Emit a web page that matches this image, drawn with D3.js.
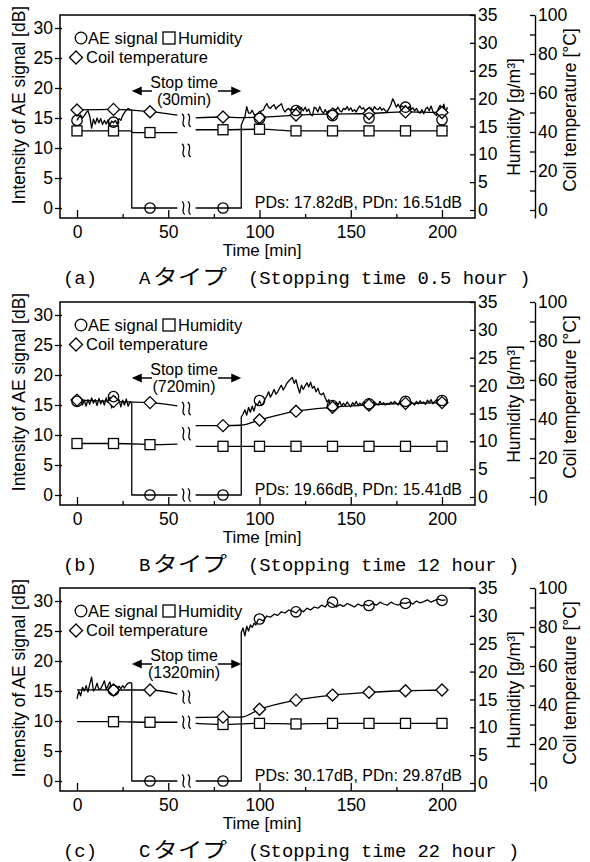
<!DOCTYPE html>
<html><head><meta charset="utf-8">
<script src="https://cdn.jsdelivr.net/npm/d3@7"></script>
<style>body{margin:0;background:#fff}svg{display:block}</style>
</head><body>
<svg id="chart" width="590" height="862"></svg>
<script>
// ---------------- DATA ----------------
const timeTicks = [0, 50, 100, 150, 200];
const timeMinorTicks = [25, 75, 125, 175];
const aeTicks = [0, 5, 10, 15, 20, 25, 30];
const humTicks = [0, 5, 10, 15, 20, 25, 30, 35];
const coilTicks = [0, 10, 20, 30, 40, 50, 60, 70, 80, 90, 100];
const coilLabels = [0, 20, 40, 60, 80, 100];
const markerTimesAB = [0, 20, 40, 80, 100, 120, 140, 160, 180, 200];
const markerTimesC = [20, 40, 80, 100, 120, 140, 160, 180, 200];
const breakFrom = 55, breakTo = 65;
const stopStart = 30, stopEnd = 90;

// Panel (a)
const aeLineA = [[0,14.6],[1,15.1],[2,15.5],[3,15.0],[4,15.4],[5,15.9],[6,16.2],[7,15.3],[8,13.3],[9,14.8],[10,14.0],[11,15.0],[12,14.2],[13,14.9],[14,13.9],[15,14.6],[16,14.0],[17,14.7],[18,13.8],[19,14.5],[20,14.2],[21,14.6],[22,14.0],[23,14.9],[24,14.6],[25,15.4],[26,15.9],[27,16.3],[28,16.6],[29,16.4],[30,16.3],[30,0],[55,0],
 [65,0],[90,0],[90,13.8],[91,14.6],[92,15.2],[93,16.9],[94,15.8],[95,15.8],[96,16.3],[97,15.6],[98,15.4],[99,15.0],[100,15.6],[101,16.2],[102,16.3],[103,16.9],[104,17.4],[105,16.8],[106,16.6],[107,17.0],[108,17.2],[109,16.5],[110,16.9],[111,17.1],[112,17.4],[113,16.5],[114,16.0],[115,16.4],[116,16.6],[117,16.2],[118,16.5],[119,16.3],[120,16.6],[121,16.9],[122,16.4],[123,16.7],[124,16.2],[125,16.8],[126,16.1],[127,16.5],[128,15.6],[129,15.4],[130,16.8],[131,16.6],[132,16.0],[133,16.9],[134,16.2],[135,15.8],[136,16.4],[137,15.9],[138,16.2],[139,15.8],[140,16.0],[141,16.5],[142,16.3],[143,16.8],[144,16.2],[145,16.0],[146,16.6],[147,16.4],[148,16.9],[149,16.3],[150,16.7],[151,16.1],[152,16.4],[153,16.0],[154,16.6],[155,17.0],[156,16.5],[157,16.7],[158,16.2],[159,16.5],[160,16.3],[161,16.7],[162,16.2],[163,16.9],[164,16.5],[165,16.4],[166,16.8],[167,16.3],[168,16.6],[169,16.2],[170,16.1],[171,16.6],[172,17.2],[173,18.2],[174,17.6],[175,16.8],[176,17.3],[177,16.7],[178,17.0],[179,16.8],[180,17.1],[181,16.5],[182,16.9],[183,16.4],[184,16.7],[185,16.2],[186,16.6],[187,16.0],[188,15.8],[189,16.4],[190,15.7],[191,16.5],[192,16.8],[193,16.2],[194,17.0],[195,16.1],[196,15.7],[197,15.4],[198,16.6],[199,17.1],[200,16.3],[201,17.3],[202,16.0],[203,16.8]];
const aeDotsA = [[0,14.6],[20,14.3],[40,0],[80,0],[100,14.9],[120,16.25],[140,15.4],[160,15.0],[180,16.8],[200,14.7]];
const humLineA = [[0,14.2],[20,14.2],[29,14.2],[31,13.9],[40,13.9],[55,13.9],[65,14.4],[80,14.4],[100,14.5],[120,14.2],[140,14.2],[160,14.2],[180,14.2],[200,14.2],[203,14.2]];
const coilLineA = [[0,51.3],[20,51.6],[40,50.4],[48,49.6],[55,48.7],[65,47.2],[80,47.7],[90,47.4],[100,47.5],[120,48.7],[140,49.2],[160,49.5],[180,50.3],[200,50.0],[203,50.0]];
const breakLevelsA = [14.6, 9.6, 0];

// Panel (b)
const aeLineB = [[0,15.6],[1,15.2],[2,16.0],[3,15.0],[4,15.8],[5,14.8],[6,15.9],[7,15.1],[8,16.2],[9,15.3],[10,15.9],[11,14.9],[12,16.1],[13,15.2],[14,15.8],[15,15.0],[16,16.2],[17,15.4],[18,16.3],[19,14.5],[20,16.1],[21,16.4],[22,15.2],[23,15.9],[24,14.7],[25,15.8],[26,15.0],[27,16.0],[28,14.8],[29,15.5],[30,15.3],[30,0],[55,0],
 [65,0],[90,0],[90,13.0],[91,13.5],[92,14.2],[93,13.3],[94,14.6],[95,13.8],[96,14.8],[97,14.0],[98,15.2],[99,15.0],[100,15.7],[101,15.0],[102,15.2],[103,16.0],[104,16.5],[105,17.2],[106,16.3],[107,16.9],[108,17.6],[109,16.8],[110,17.2],[111,17.8],[112,18.3],[113,17.5],[114,18.0],[115,18.6],[116,19.0],[117,19.3],[118,19.6],[119,18.6],[120,19.2],[121,18.0],[122,17.0],[123,18.3],[124,17.6],[125,18.2],[126,18.7],[127,18.0],[128,18.8],[129,17.8],[130,18.1],[131,17.2],[132,17.8],[133,16.9],[134,16.7],[135,17.0],[136,16.2],[137,15.5],[138,15.9],[139,14.9],[140,15.3],[141,14.6],[142,15.4],[143,15.0],[144,15.6],[145,14.8],[146,15.3],[147,14.9],[148,15.5],[149,15.1],[150,14.7],[151,15.4],[152,15.0],[153,15.6],[154,14.9],[155,15.3],[156,15.0],[157,15.5],[158,15.1],[159,15.4],[160,15.0],[161,15.3],[162,14.9],[163,15.5],[164,15.2],[165,15.0],[166,15.6],[167,15.1],[168,15.4],[169,15.0],[170,15.3],[171,15.1],[172,15.5],[173,15.2],[174,15.6],[175,15.3],[176,15.0],[177,15.7],[178,15.2],[179,15.6],[180,15.4],[181,15.8],[182,15.1],[183,15.5],[184,15.3],[185,15.0],[186,15.6],[187,15.2],[188,15.7],[189,15.3],[190,15.5],[191,15.1],[192,15.8],[193,15.4],[194,15.9],[195,15.2],[196,15.6],[197,15.9],[198,15.4],[199,15.8],[200,15.5],[201,16.0],[202,15.6],[203,15.9]];
const aeDotsB = [[0,15.6],[20,16.4],[40,0],[80,0],[100,15.75],[140,14.9],[160,15.2],[180,15.6],[200,15.75]];
const humLineB = [[0,9.6],[20,9.6],[35,9.5],[40,9.4],[55,9.5],[65,9.1],[80,9.1],[100,9.1],[120,9.1],[140,9.1],[160,9.1],[180,9.1],[200,9.1],[203,9.1]];
const coilLineB = [[0,49.7],[20,49.0],[40,48.4],[55,46.7],[65,36.6],[80,36.6],[90,36.8],[100,39.5],[120,44.0],[140,46.0],[160,47.2],[180,48.0],[200,48.4],[203,48.5]];
const breakLevelsB = [14.4, 10.2, 0];

// Panel (c)
const aeLineC = [[0,13.7],[1,15.0],[2,14.2],[3,15.6],[4,15.0],[5,15.9],[6,14.8],[7,16.2],[8,17.3],[9,15.0],[10,15.4],[11,16.3],[12,15.2],[13,15.4],[14,16.0],[15,16.7],[16,15.3],[17,15.9],[18,16.5],[19,15.4],[20,15.1],[21,15.6],[22,15.2],[23,15.8],[24,15.4],[25,15.9],[26,15.5],[27,16.0],[28,16.3],[29,16.4],[30,16.3],[30,0],[55,0],
 [65,0],[90,0],[90,24.8],[91,25.5],[92,24.2],[93,25.8],[94,25.0],[95,26.0],[96,25.6],[97,26.3],[98,26.0],[99,26.8],[100,27.0],[102,26.7],[104,27.5],[106,27.3],[108,27.8],[110,27.6],[112,28.2],[114,28.0],[116,28.5],[118,28.3],[120,28.0],[122,28.6],[124,28.2],[126,28.8],[128,28.5],[130,29.0],[132,28.8],[134,29.3],[136,29.0],[138,29.8],[140,29.5],[142,29.0],[144,29.4],[146,29.1],[148,29.6],[150,29.3],[152,29.0],[154,29.5],[156,29.2],[158,29.4],[160,29.2],[162,29.6],[164,29.3],[166,29.8],[168,29.5],[170,29.3],[172,29.8],[174,29.5],[176,29.3],[178,29.7],[180,29.6],[182,29.8],[184,29.5],[186,30.0],[188,29.7],[190,29.9],[192,30.2],[194,29.8],[196,30.1],[198,30.3],[200,30.1],[202,30.2]];
const aeDotsC = [[20,15.1],[40,0],[80,0],[100,27.0],[120,28.2],[140,29.8],[160,29.25],[180,29.6],[200,30.1]];
const humLineC = [[0,11.0],[20,11.0],[40,10.9],[55,10.9],[65,10.7],[80,10.5],[90,10.6],[100,10.7],[120,10.6],[140,10.7],[160,10.7],[180,10.7],[200,10.7],[203,10.7]];
const coilLineC = [[0,47.8],[20,47.7],[40,47.7],[55,45.6],[65,33.6],[80,33.8],[90,33.8],[100,37.8],[120,42.5],[140,45.1],[160,46.5],[180,47.3],[200,47.7],[203,47.8]];
const breakLevelsC = [14.0, 9.8, 0];

const stopLabels = ["(30min)", "(720min)", "(1320min)"];
const pdTexts = ["PDs: 17.82dB, PDn: 16.51dB", "PDs: 19.66dB, PDn: 15.41dB", "PDs: 30.17dB, PDn: 29.87dB"];
const captionLetters = ["(a)", "(b)", "(c)"];
const captionTypes = ["A", "B", "C"];
const captionRest = ["(Stopping time 0.5 hour )", "(Stopping time 12 hour )", "(Stopping time 22 hour )"];

// ---------------- LAYOUT ----------------
const panelTops = [15, 302, 588];
const FL = 60, FR = 475, FH = 203;
const SANS = "'Liberation Sans', Arial, sans-serif";
const MONO = "'Liberation Mono', 'DejaVu Sans Mono', monospace";
const CJK = "'Noto Sans CJK JP', sans-serif";

const panels = [
  {ae: aeLineA, aeDots: aeDotsA, hum: humLineA, coil: coilLineA, marks: markerTimesAB, breaks: breakLevelsA},
  {ae: aeLineB, aeDots: aeDotsB, hum: humLineB, coil: coilLineB, marks: markerTimesAB, breaks: breakLevelsB},
  {ae: aeLineC, aeDots: aeDotsC, hum: humLineC, coil: coilLineC, marks: markerTimesC, breaks: breakLevelsC}
];

const svg = d3.select("#chart");
const x = d3.scaleLinear().domain([0, 200]).range([77, 442]);

function splitBreak(pts) {
  return [pts.filter(d => d[0] <= breakFrom), pts.filter(d => d[0] >= breakTo)];
}

function styleAxis(a) {
  a.attr("font-family", SANS).attr("font-size", 17.5);
  a.selectAll("line").attr("stroke", "#000").attr("stroke-width", 1.3);
  a.selectAll("text").attr("fill", "#000");
  a.select(".domain").attr("stroke", "#000").attr("stroke-width", 1.4);
}

panels.forEach((p, i) => {
  const top = panelTops[i];
  const g = svg.append("g");
  const yAE = d3.scaleLinear().domain([-1.667, 32.167]).range([top + FH, top]);
  const yHum = d3.scaleLinear().domain([-1.436, 35]).range([top + FH, top]);
  const yCoil = d3.scaleLinear().domain([-4.1, 100]).range([top + FH, top]);

  // frame
  g.append("rect").attr("x", FL).attr("y", top).attr("width", FR - FL).attr("height", FH)
    .attr("fill", "none").attr("stroke", "#000").attr("stroke-width", 1.5);

  // bottom axis (inward ticks)
  g.append("g").attr("transform", `translate(0,${top + FH})`)
    .call(d3.axisBottom(x).tickValues(timeTicks).tickSize(-8).tickSizeOuter(0))
    .call(a => { styleAxis(a); a.select(".domain").remove(); a.selectAll("text").attr("y", 20).attr("dy", null); });
  g.append("g").attr("transform", `translate(0,${top + FH})`)
    .call(d3.axisBottom(x).tickValues(timeMinorTicks).tickSize(-4).tickSizeOuter(0).tickFormat(""))
    .call(a => { styleAxis(a); a.select(".domain").remove(); });

  // left axis
  g.append("g").attr("transform", `translate(${FL},0)`)
    .call(d3.axisLeft(yAE).tickValues(aeTicks).tickSize(5).tickPadding(2).tickSizeOuter(0))
    .call(a => { styleAxis(a); a.select(".domain").remove(); a.selectAll("line").attr("x1", 2); });

  // humidity axis (right frame)
  g.append("g").attr("transform", `translate(${FR},0)`)
    .call(d3.axisRight(yHum).tickValues(humTicks).tickSize(-5).tickPadding(3).tickSizeOuter(0))
    .call(a => { styleAxis(a); a.select(".domain").remove(); });

  // coil axis
  g.append("g").attr("transform", `translate(535,0)`)
    .call(d3.axisRight(yCoil).tickValues(coilTicks).tickSize(-5).tickPadding(3).tickSizeOuter(0)
      .tickFormat(d => coilLabels.includes(d) ? d : ""))
    .call(a => styleAxis(a));

  // axis titles
  g.append("text").attr("transform", `translate(25,${top + 90}) rotate(-90)`)
    .attr("text-anchor", "middle").attr("font-family", SANS).attr("font-size", 17.5)
    .text("Intensity of AE signal [dB]");
  g.append("text").attr("transform", `translate(520,${top + 102}) rotate(-90)`)
    .attr("text-anchor", "middle").attr("font-family", SANS).attr("font-size", 17.5)
    .text("Humidity [g/m³]");
  g.append("text").attr("transform", `translate(576,${top + 95}) rotate(-90)`)
    .attr("text-anchor", "middle").attr("font-family", SANS).attr("font-size", 17.5)
    .text("Coil temperature [°C]");
  g.append("text").attr("x", 262).attr("y", top + 241).attr("text-anchor", "middle")
    .attr("font-family", SANS).attr("font-size", 17).text("Time [min]");

  // lines
  const lineAE = d3.line().x(d => x(d[0])).y(d => yAE(d[1]));
  const lineHum = d3.line().x(d => x(d[0])).y(d => yHum(d[1])).curve(d3.curveMonotoneX);
  const lineCoil = d3.line().x(d => x(d[0])).y(d => yCoil(d[1])).curve(d3.curveMonotoneX);
  const lg = g.append("g").attr("fill", "none").attr("stroke", "#000").attr("stroke-width", 1.3)
    .attr("stroke-linejoin", "round");
  splitBreak(p.hum).forEach(s => lg.append("path").attr("d", lineHum(s)));
  splitBreak(p.coil).forEach(s => lg.append("path").attr("d", lineCoil(s)));
  splitBreak(p.ae).forEach(s => lg.append("path").attr("d", lineAE(s)));

  // break marks
  const bx = [x(58.3), x(61.5)];
  p.breaks.forEach(L => {
    const y0 = yAE(L);
    bx.forEach(cx => {
      lg.append("path").attr("d",
        `M${cx - 1.5},${y0 - 6.5} C${cx + 4},${y0 - 3.5} ${cx - 4},${y0 + 3.5} ${cx + 1.5},${y0 + 6.5}`);
    });
  });

  // markers
  const mg = g.append("g").attr("stroke", "#000").attr("stroke-width", 1.3);
  const humDots = p.hum.filter(d => p.marks.includes(d[0]));
  const coilDots = p.coil.filter(d => p.marks.includes(d[0]));
  mg.selectAll(".sq").data(humDots).join("rect").attr("class", "sq")
    .attr("x", d => x(d[0]) - 5).attr("y", d => yHum(d[1]) - 5).attr("width", 10).attr("height", 10)
    .attr("fill", "#fff");
  mg.selectAll(".dm").data(coilDots).join("path").attr("class", "dm")
    .attr("d", d => { const cx = x(d[0]), cy = yCoil(d[1]); return `M${cx},${cy - 6}L${cx + 6},${cy}L${cx},${cy + 6}L${cx - 6},${cy}Z`; })
    .attr("fill", "#fff");
  mg.selectAll(".ci").data(p.aeDots).join("circle").attr("class", "ci")
    .attr("cx", d => x(d[0])).attr("cy", d => yAE(d[1])).attr("r", 5.2)
    .attr("fill", "none");

  // legend
  const leg = g.append("g");
  leg.append("circle").attr("cx", 81).attr("cy", top + 23).attr("r", 5.8)
    .attr("fill", "none").attr("stroke", "#000").attr("stroke-width", 1.3);
  leg.append("text").attr("x", 88).attr("y", top + 29).attr("font-family", SANS).attr("font-size", 16.5).text("AE signal");
  leg.append("rect").attr("x", 163).attr("y", top + 17).attr("width", 12).attr("height", 12)
    .attr("fill", "none").attr("stroke", "#000").attr("stroke-width", 1.3);
  leg.append("text").attr("x", 178).attr("y", top + 29).attr("font-family", SANS).attr("font-size", 16.5).text("Humidity");
  leg.append("path").attr("d", `M76,${top + 36}L82.5,${top + 42.5}L76,${top + 49}L69.5,${top + 42.5}Z`)
    .attr("fill", "none").attr("stroke", "#000").attr("stroke-width", 1.3);
  leg.append("text").attr("x", 86).attr("y", top + 48).attr("font-family", SANS).attr("font-size", 16.5).text("Coil temperature");

  // stop time annotation
  const ay = top + 76;
  g.append("text").attr("x", 184).attr("y", top + 73).attr("text-anchor", "middle")
    .attr("font-family", SANS).attr("font-size", 16).text("Stop time");
  g.append("text").attr("x", 184).attr("y", top + 90).attr("text-anchor", "middle")
    .attr("font-family", SANS).attr("font-size", 16).text(stopLabels[i]);
  const arr = g.append("g");
  const lt = x(stopStart), rt = x(stopEnd);
  arr.append("line").attr("x1", lt + 6).attr("x2", 152).attr("y1", ay).attr("y2", ay).attr("stroke", "#000").attr("stroke-width", 1.5);
  arr.append("path").attr("d", `M${lt},${ay}L${lt + 10},${ay - 4.5}L${lt + 10},${ay + 4.5}Z`).attr("fill", "#000");
  arr.append("line").attr("x1", 218).attr("x2", rt - 6).attr("y1", ay).attr("y2", ay).attr("stroke", "#000").attr("stroke-width", 1.5);
  arr.append("path").attr("d", `M${rt},${ay}L${rt - 10},${ay - 4.5}L${rt - 10},${ay + 4.5}Z`).attr("fill", "#000");

  // PD text
  g.append("text").attr("x", 462).attr("y", top + 193).attr("text-anchor", "end")
    .attr("font-family", SANS).attr("font-size", 16).text(pdTexts[i]);

  // caption
  const cy = top + 269;
  g.append("text").attr("x", 63).attr("y", cy).attr("font-family", MONO).attr("font-size", 19)
    .attr("textLength", 34).attr("lengthAdjust", "spacingAndGlyphs").text(captionLetters[i]);
  g.append("text").attr("x", 139).attr("y", cy).attr("font-family", MONO).attr("font-size", 19).text(captionTypes[i]);
  g.append("text").attr("x", 153).attr("y", cy).attr("font-family", CJK).attr("font-size", 21)
    .attr("textLength", 74).attr("lengthAdjust", "spacingAndGlyphs").text("タイプ");
  g.append("text").attr("x", 248).attr("y", cy).attr("font-family", MONO).attr("font-size", 19)
    .attr("textLength", captionRest[i].length * 11.3).attr("lengthAdjust", "spacingAndGlyphs")
    .style("white-space", "pre").text(captionRest[i]);
});
</script>
</body></html>
